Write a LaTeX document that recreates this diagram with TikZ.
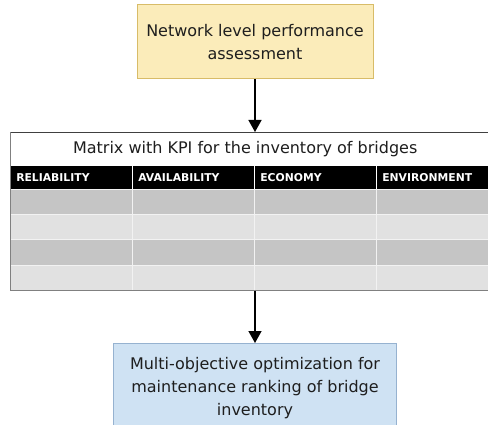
\documentclass[tikz,border=0pt]{standalone}
\usepackage{fontspec}
\setmainfont{DejaVu Sans}
\usepackage{tikz}
\usetikzlibrary{arrows.meta, positioning}

\definecolor{assessfill}{RGB}{251,236,186}
\definecolor{assessline}{RGB}{216,188,104}
\definecolor{optimfill}{RGB}{207,226,243}
\definecolor{optimline}{RGB}{150,178,208}
\definecolor{rowdark}{RGB}{197,197,197}
\definecolor{rowlight}{RGB}{225,225,225}
\definecolor{textgray}{RGB}{30,30,30}

\begin{document}
\begin{tikzpicture}[
    x=1pt, y=-1pt,
    stage/.style={draw, line width=1pt, align=center, inner xsep=2pt, text=textgray, font=\fontsize{16}{23}\selectfont},
    flow/.style={-{Triangle[length=12pt,width=13pt]}, line width=1.5pt},
    kpi/.style={anchor=north west, fill=black, draw=white, line width=0.6pt, minimum height=24pt, inner xsep=6pt, inner ysep=0pt, text width=110pt, align=left, text=white, font=\bfseries\fontsize{10.8}{12}\selectfont},
    cell/.style={anchor=north west, draw=white!90!gray, line width=0.6pt, minimum width=122pt, minimum height=25.25pt, inner sep=0pt}
]
    \clip (0,0) rectangle (488,425);

    \node[stage, fill=assessfill, draw=assessline, minimum width=236pt, minimum height=74pt] (assess) at (255,42) {Network level performance\\assessment};

    % KPI matrix
    \node[anchor=north west, fill=white, minimum width=490pt, minimum height=33pt, inner sep=0pt, text=textgray, font=\fontsize{16}{18}\selectfont] (title) at (10,132) {\hspace*{-20pt}Matrix with KPI for the inventory of bridges};
    \foreach \name [count=\i from 0] in {RELIABILITY,AVAILABILITY,ECONOMY,ENVIRONMENT}
        \node[kpi] (h\i) at (10+122*\i,165) {\name};
    \foreach \r in {1,...,4}
        \foreach \i in {0,...,3} {
            \pgfmathsetmacro\shade{isodd(\r) ? "rowdark" : "rowlight"}
            \node[cell, fill=\shade] (c\r\i) at (10+122*\i,189+25.25*\r-25.25) {};
        }
    \draw[black!75, line width=0.8pt] (title.north west) -- (title.north east);
    \draw[gray, line width=0.6pt] (title.north west) -- (c40.south west) -- (c43.south east);

    \node[stage, fill=optimfill, draw=optimline, minimum width=283pt, minimum height=90pt, anchor=north] (optim) at (255,343) {Multi-objective optimization for\\maintenance ranking of bridge\\inventory};

    \draw[flow] (assess.south) -- (assess.south |- title.north);
    \draw[flow] (optim.north |- c40.south) -- (optim.north);
\end{tikzpicture}
\end{document}
